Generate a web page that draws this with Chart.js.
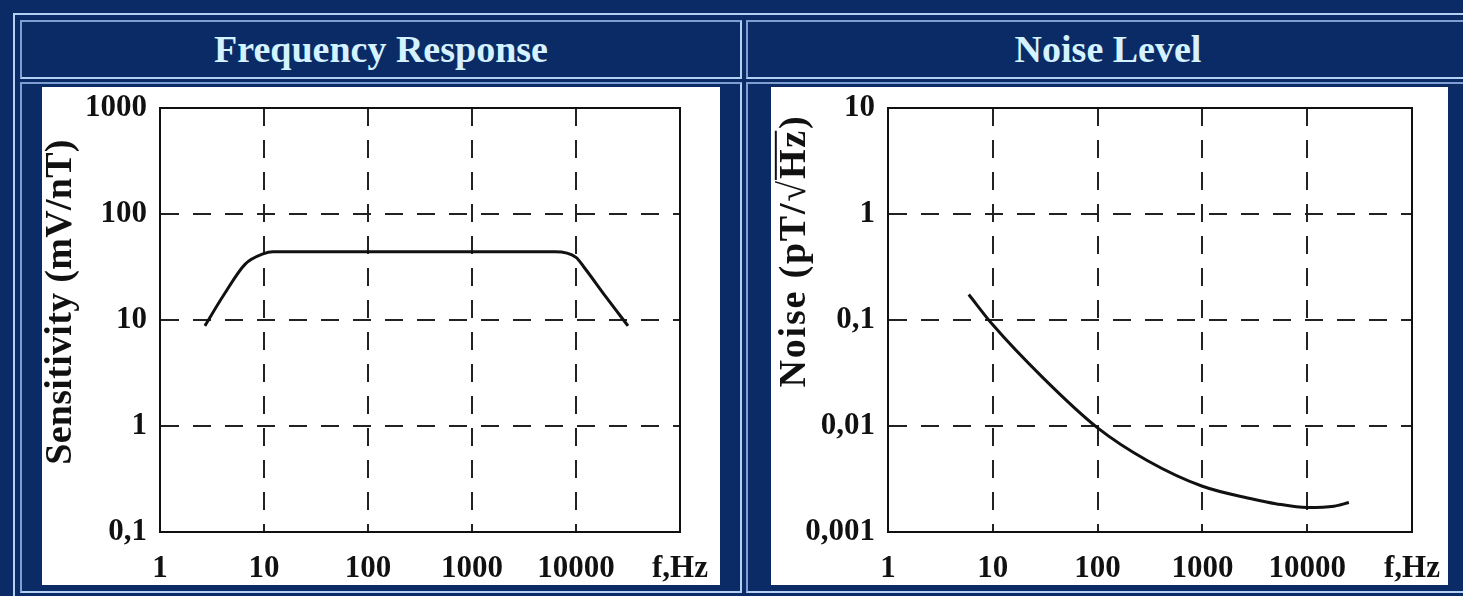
<!DOCTYPE html>
<html>
<head>
<meta charset="utf-8">
<script src="https://cdn.jsdelivr.net/npm/chart.js@4.4.0/dist/chart.umd.min.js"></script>
<style>
  html, body { margin: 0; padding: 0; }
  body { width: 1463px; height: 596px; background: #0b2b66; position: relative; overflow: hidden; font-family: "Liberation Serif", serif; }
  .box { position: absolute; box-sizing: border-box; }
  .outer { left: 13px; top: 13px; width: 1500px; height: 620px; border-top: 2px solid #b4d0f4; border-left: 2px solid #b4d0f4; }
  .cell { border: 2px solid; border-color: #7f9fd2 #b4d0f4 #b4d0f4 #7f9fd2; }
  .title { position: absolute; top: 30px; height: 38px; line-height: 38px; text-align: center; color: #d4f2ff; font-weight: bold; font-size: 38px; }
  .white { position: absolute; background: #fff; top: 87px; height: 498px; }
  canvas { display: block; }
</style>
</head>
<body>
<div class="box outer"></div>
<div class="box cell" style="left:20px; top:20px; width:722px; height:59px;"></div>
<div class="box cell" style="left:746px; top:20px; width:800px; height:59px;"></div>
<div class="box cell" style="left:20px; top:82px; width:722px; height:511px;"></div>
<div class="box cell" style="left:746px; top:82px; width:800px; height:511px;"></div>
<div class="title" style="left:20px; width:722px;">Frequency Response</div>
<div class="title" style="left:746px; width:724px;">Noise Level</div>
<div class="white" style="left:42px; width:678px;"><canvas id="freqChart" width="678" height="498"></canvas></div>
<div class="white" style="left:771px; width:677px;"><canvas id="noiseChart" width="677" height="498"></canvas></div>

<script>
const freqTicks = [1, 10, 100, 1000, 10000, 100000];
const freqTickLabels = ['1', '10', '100', '1000', '10000', 'f,Hz'];
const sensTicks = [0.1, 1, 10, 100, 1000];
const sensTickLabels = ['0,1', '1', '10', '100', '1000'];
const noiseTicks = [0.001, 0.01, 0.1, 1, 10];
const noiseTickLabels = ['0,001', '0,01', '0,1', '1', '10'];

// frequency response, mV/nT
const sensFreq = [2.7, 4.1, 6.6, 9.8, 12.2, 100, 1000, 6300, 10000, 11900, 19400, 31600];
const sensValues = [8.8, 17.2, 33.7, 42, 44, 44, 44, 44, 39, 31.6, 16.5, 8.8];

// noise level, pT/sqrt(Hz)
const noiseFreq = [5.9, 10, 30, 100, 300, 1000, 3000, 5000, 10000, 18000, 25000];
const noiseValues = [0.174, 0.09, 0.0286, 0.0096, 0.0047, 0.0027, 0.00205, 0.00185, 0.0017, 0.00175, 0.0019];

const tickFont = { family: '"Liberation Serif", serif', size: 31, weight: 'bold' };
const dash = [18, 14];

function labelFor(list, labels) {
  return function (v) {
    const i = list.findIndex(t => Math.abs(Math.log10(t) - Math.log10(v)) < 1e-6);
    return i >= 0 ? labels[i] : '';
  };
}

const plotFrame = {
  id: 'plotFrame',
  afterDatasetsDraw(chart) {
    const { ctx, chartArea: a } = chart;
    ctx.save();
    ctx.lineWidth = 2;
    ctx.strokeStyle = '#111';
    ctx.strokeRect(a.left, a.top, a.right - a.left, a.bottom - a.top);
    ctx.restore();
  }
};

const sideTitle = {
  id: 'sideTitle',
  afterDraw(chart, args, opts) {
    const ctx = chart.ctx;
    ctx.save();
    ctx.translate(opts.x, opts.y);
    ctx.rotate(-Math.PI / 2);
    ctx.font = 'bold 38px "Liberation Serif", serif';
    ctx.letterSpacing = (opts.spacing || 0) + 'px';
    ctx.fillStyle = '#111';
    ctx.textAlign = 'center';
    ctx.textBaseline = 'middle';
    ctx.fillText(opts.text, 0, 0);
    if (opts.over) {
      // bar of the square root over "Hz"
      const full = ctx.measureText(opts.text).width;
      const idx = opts.text.indexOf(opts.over);
      const before = ctx.measureText(opts.text.slice(0, idx)).width;
      const w = ctx.measureText(opts.over).width;
      const top = ctx.measureText('\u221A').actualBoundingBoxAscent;
      const x0 = -full / 2 + before;
      ctx.lineWidth = 2;
      ctx.strokeStyle = '#111';
      ctx.beginPath();
      ctx.moveTo(x0 - 1, -top + 1);
      ctx.lineTo(x0 + w - (opts.spacing || 0), -top + 1);
      ctx.stroke();
    }
    ctx.restore();
  }
};

function makeChart(id, xs, ys, yTicks, yLabels, yMin, yMax, title, leftW, padRight) {
  const ctx = document.getElementById(id).getContext('2d');
  return new Chart(ctx, {
    type: 'line',
    data: {
      datasets: [{
        data: xs.map((x, i) => ({ x, y: ys[i] })),
        borderColor: '#111',
        borderWidth: 3,
        pointRadius: 0,
        fill: false,
        cubicInterpolationMode: 'monotone'
      }]
    },
    options: {
      responsive: false,
      animation: false,
      devicePixelRatio: 1,
      layout: { padding: { top: 21, right: padRight, left: 0, bottom: 0 } },
      plugins: { legend: { display: false }, tooltip: { enabled: false }, sideTitle: title },
      scales: {
        x: {
          type: 'logarithmic',
          min: 1,
          max: 100000,
          afterBuildTicks: s => { s.ticks = freqTicks.map(v => ({ value: v })); },
          afterFit: s => { s.height = 53; s.paddingLeft = 0; s.paddingRight = 0; },
          grid: { color: '#222', lineWidth: 2, drawTicks: false },
          border: { display: true, color: '#111', width: 2, dash: dash },
          ticks: {
            autoSkip: false, maxRotation: 0, padding: 18, color: '#111', font: tickFont,
            callback: labelFor(freqTicks, freqTickLabels)
          }
        },
        y: {
          type: 'logarithmic',
          min: yMin,
          max: yMax,
          afterBuildTicks: s => { s.ticks = yTicks.map(v => ({ value: v })); },
          afterFit: s => { s.width = leftW; s.paddingTop = 0; s.paddingBottom = 0; },
          grid: { color: '#222', lineWidth: 2, drawTicks: false },
          border: { display: true, color: '#111', width: 2, dash: dash },
          ticks: {
            autoSkip: false, padding: 13, color: '#111', font: tickFont,
            callback: labelFor(yTicks, yLabels)
          }
        }
      }
    },
    plugins: [plotFrame, sideTitle]
  });
}

makeChart('freqChart', sensFreq, sensValues, sensTicks, sensTickLabels, 0.1, 1000,
  { text: 'Sensitivity (mV/nT)', x: 19, y: 215, spacing: 0.3 }, 118, 40);
makeChart('noiseChart', noiseFreq, noiseValues, noiseTicks, noiseTickLabels, 0.001, 10,
  { text: 'Noise (pT/\u221AHz)', over: 'Hz', x: 24, y: 164, spacing: 1.8 }, 117, 36);
</script>
</body>
</html>
